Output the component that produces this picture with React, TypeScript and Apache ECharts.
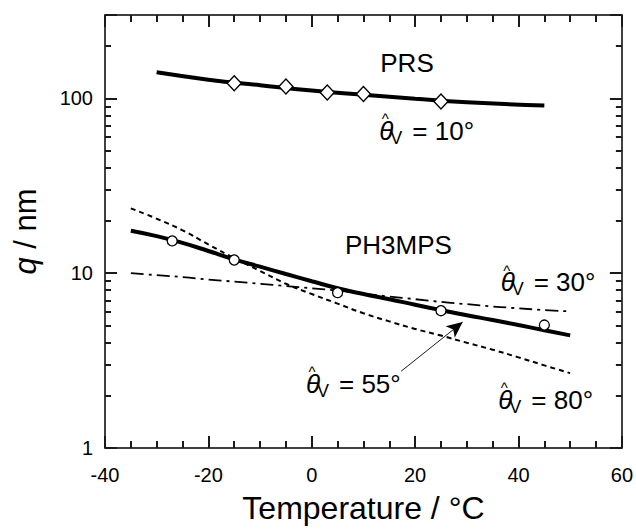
import React, { useEffect, useRef } from 'react';
import * as echarts from 'echarts';

const FONT = '"Liberation Sans", Arial, Helvetica, sans-serif';

// x axis (Temperature / °C)
const xMin = -40;
const xMax = 60;
const xStep = 20;
// y axis (q / nm), logarithmic
const yMin = 1;
const yMax = 300;

// PRS: fitted curve and measured points
const prsCurveT = [-30, -20, -10, 0, 10, 20, 30, 45];
const prsCurveQ = [141, 128, 119, 111, 105, 99.5, 95, 91];
const prsPointT = [-15, -5, 3, 10, 25];
const prsPointQ = [122, 117, 108, 106, 96];

// PH3MPS: measured points
const phPointT = [-27, -15, 5, 25, 45];
const phPointQ = [15.3, 11.9, 7.74, 6.1, 5.05];

// Shared temperature grid for the PH3MPS model curves
const curveT = [-35, -30, -25, -20, -15, -10, -5, 0, 5, 10, 15, 20, 25, 30, 35, 40, 45, 50];
// θV = 55° (solid)
const q55 = [17.5, 16.3, 14.9, 13.4, 12.0, 10.9, 9.9, 9.0, 8.2, 7.6, 7.1, 6.6, 6.15, 5.75, 5.4, 5.05, 4.72, 4.41];
// θV = 80° (dashed)
const q80 = [23.5, 20.5, 17.6, 14.6, 12.2, 10.3, 8.7, 7.6, 6.7, 5.9, 5.3, 4.8, 4.4, 4.0, 3.65, 3.3, 2.97, 2.68];
// θV = 30° (dash-dot)
const q30 = [10.0, 9.75, 9.5, 9.2, 8.95, 8.7, 8.45, 8.2, 7.95, 7.65, 7.35, 7.1, 6.85, 6.65, 6.45, 6.3, 6.15, 6.05];

// Arrow from the "55°" label to the solid curve (data coordinates)
const arrowFrom = [17.3, 2.75];
const arrowTo = [29.2, 5.25];

const zip = (a: number[], b: number[]) => a.map((v, i) => [v, b[i]]);

const TICK_COLOR = '#1a1a1a';

function thetaLabel(left: number, cy: number, rest: string) {
  const base = () => ({ fill: '#000', fontFamily: FONT });
  return {
    type: 'group',
    x: left,
    y: cy,
    silent: true,
    children: [
      { type: 'text', x: 0, y: 0, style: { ...base(), text: 'θ', fontSize: 26, fontStyle: 'italic', align: 'left', verticalAlign: 'middle' } },
      { type: 'text', x: 2.5, y: -12, style: { ...base(), text: '^', fontSize: 15, align: 'left', verticalAlign: 'middle' } },
      { type: 'text', x: 11, y: 7, style: { ...base(), text: 'V', fontSize: 18, align: 'left', verticalAlign: 'middle' } },
      { type: 'text', x: 33, y: 0, style: { ...base(), text: rest, fontSize: 26, align: 'left', verticalAlign: 'middle' } },
    ],
  };
}

function xAxisDef(position: 'bottom' | 'top', labels: boolean) {
  return {
    type: 'value',
    position,
    min: xMin,
    max: xMax,
    interval: xStep,
    axisLine: { show: true, onZero: false, lineStyle: { color: '#000', width: 1.5 } },
    axisTick: { show: true, inside: true, length: 12, lineStyle: { color: TICK_COLOR, width: 2 } },
    minorTick: { show: true, splitNumber: 4, length: 7, lineStyle: { color: TICK_COLOR, width: 2 } },
    splitLine: { show: false },
    axisLabel: { show: labels, fontSize: 20, color: '#000', margin: 17, fontFamily: FONT },
    ...(labels
      ? {
          name: 'Temperature / °C',
          nameLocation: 'middle',
          nameGap: 44,
          nameTextStyle: { fontSize: 32, color: '#000', fontFamily: FONT },
        }
      : {}),
  };
}

function yAxisDef(position: 'left' | 'right', labels: boolean) {
  return {
    type: 'log',
    position,
    min: yMin,
    max: yMax,
    axisLine: { show: true, onZero: false, lineStyle: { color: '#000', width: 1.5 } },
    axisTick: { show: true, inside: true, length: 12, lineStyle: { color: TICK_COLOR, width: 2 } },
    minorTick: { show: true, splitNumber: 9, length: 6, lineStyle: { color: TICK_COLOR, width: 2 } },
    splitLine: { show: false },
    axisLabel: { show: labels, showMaxLabel: false, fontSize: 20, color: '#000', margin: 12, fontFamily: FONT },
    ...(labels
      ? {
          name: '{i|q} / nm',
          nameLocation: 'middle',
          nameGap: 64,
          nameTextStyle: {
            fontSize: 31,
            color: '#000',
            fontFamily: FONT,
            rich: { i: { fontSize: 31, fontStyle: 'italic', color: '#000', fontFamily: FONT } },
          },
        }
      : {}),
  };
}

export default function App() {
  const ref = useRef<HTMLDivElement>(null);

  useEffect(() => {
    if (!ref.current) return;
    const chart = echarts.init(ref.current, undefined, { renderer: 'svg' });
    const option: any = {
      animation: false,
      grid: { left: 105, right: 13, top: 15, bottom: 78 },
      xAxis: [xAxisDef('bottom', true), xAxisDef('top', false)],
      yAxis: [yAxisDef('left', true), yAxisDef('right', false)],
      series: [
        {
          name: 'PRS fit',
          type: 'line',
          data: zip(prsCurveT, prsCurveQ),
          smooth: true,
          symbol: 'none',
          lineStyle: { color: '#000', width: 4 },
          z: 2,
        },
        {
          name: 'PRS',
          type: 'scatter',
          data: zip(prsPointT, prsPointQ),
          symbol: 'diamond',
          symbolSize: [14, 15],
          itemStyle: { color: '#fff', borderColor: '#000', borderWidth: 1.4, opacity: 1 },
          z: 5,
        },
        {
          name: 'θV = 55°',
          type: 'line',
          data: zip(curveT, q55),
          smooth: true,
          symbol: 'none',
          lineStyle: { color: '#000', width: 4 },
          z: 2,
        },
        {
          name: 'θV = 80°',
          type: 'line',
          data: zip(curveT, q80),
          smooth: true,
          symbol: 'none',
          lineStyle: { color: '#000', width: 2, type: [5, 4] },
          z: 2,
        },
        {
          name: 'θV = 30°',
          type: 'line',
          data: zip(curveT, q30),
          smooth: true,
          symbol: 'none',
          lineStyle: { color: '#000', width: 1.8, type: [13, 5, 3, 5] },
          z: 2,
        },
        {
          name: 'PH3MPS',
          type: 'scatter',
          data: zip(phPointT, phPointQ),
          symbol: 'circle',
          symbolSize: 10,
          itemStyle: { color: '#fff', borderColor: '#000', borderWidth: 1.3, opacity: 1 },
          z: 5,
        },
        {
          name: 'arrow',
          type: 'lines',
          coordinateSystem: 'cartesian2d',
          data: [{ coords: [arrowFrom, arrowTo] }],
          symbol: ['none', 'arrow'],
          symbolSize: [[1, 1], [11, 16]],
          lineStyle: { color: '#000', width: 0.9, opacity: 1 },
          z: 4,
        },
      ],
      graphic: [
        { type: 'text', x: 407, y: 63, silent: true, style: { text: 'PRS', fontSize: 26, fontFamily: FONT, fill: '#000', align: 'center', verticalAlign: 'middle' } },
        { type: 'text', x: 345, y: 245, silent: true, style: { text: 'PH3MPS', fontSize: 26, fontFamily: FONT, fill: '#000', align: 'left', verticalAlign: 'middle' } },
        thetaLabel(379.3, 130.7, '= 10°'),
        thetaLabel(500.7, 282, '= 30°'),
        thetaLabel(306, 383.7, '= 55°'),
        thetaLabel(498.3, 399.5, '= 80°'),
      ],
    };
    chart.setOption(option);
    return () => chart.dispose();
  }, []);

  return (
    <div
      ref={ref}
      style={{ position: 'fixed', left: 0, top: 0, width: 636, height: 529, background: '#fff' }}
    />
  );
}
